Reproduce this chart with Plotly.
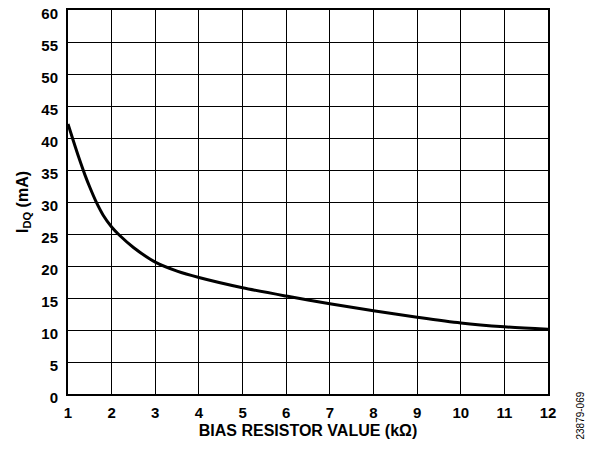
import plotly.graph_objects as go

resistor_k = [1.0, 1.12, 1.25, 1.39, 1.5, 1.64, 1.81, 2.0, 2.18, 2.5, 3.0, 3.5, 4, 5, 6, 7, 8, 9, 10, 11, 12]
idq_ma = [42.2, 39.6, 36.9, 34.2, 32.3, 30.1, 27.9, 26.1, 24.8, 22.9, 20.6, 19.2, 18.2, 16.6, 15.3, 14.1, 13.0, 12.0, 11.1, 10.5, 10.1]

x_ticks = list(range(1, 13))
y_ticks = list(range(0, 61, 5))

tick_font = dict(family="Liberation Sans, Arial, sans-serif", size=15, color="black")
title_font = dict(family="Liberation Sans, Arial, sans-serif", size=16, color="black")

fig = go.Figure()
fig.add_trace(go.Scatter(x=resistor_k, y=idq_ma, mode="lines",
                         line=dict(color="black", width=3, shape="spline", smoothing=0.8),
                         showlegend=False))

# page body has an 8px margin, so the figure itself is shifted by 8px
fig.update_layout(
    width=589, height=434,
    margin=dict(l=60, r=49, t=2, b=48, autoexpand=False),
    paper_bgcolor="white", plot_bgcolor="white",
    font=tick_font,
)
fig.update_xaxes(range=[1, 12], tickvals=x_ticks, ticktext=[f"<b>{v}</b>" for v in x_ticks],
                 tickfont=tick_font, ticklabelstandoff=4,
                 showgrid=True, gridcolor="black", gridwidth=1,
                 showline=True, linecolor="black", linewidth=2, mirror=True,
                 ticks="", zeroline=False, automargin=False,
                 title=dict(text="<b>BIAS RESISTOR VALUE (kΩ)</b>", standoff=5, font=title_font))
fig.update_yaxes(range=[0, 60], tickvals=y_ticks, ticktext=[f"<b>{v}</b>" for v in y_ticks],
                 tickfont=tick_font, ticklabelstandoff=5, ticklabelshift=4,
                 ticklabeloverflow="allow",
                 showgrid=True, gridcolor="black", gridwidth=1,
                 showline=True, linecolor="black", linewidth=2, mirror=True,
                 ticks="", zeroline=False, automargin=False,
                 title=dict(text="<b>I<sub>DQ</sub> (mA)</b>", standoff=9, font=title_font))
fig.add_annotation(text="23879-069", xref="paper", yref="paper", x=1.067, y=0.012,
                   textangle=-90, showarrow=False, xanchor="center", yanchor="top",
                   font=dict(family="Liberation Sans, Arial, sans-serif", size=10, color="black"))

fig.write_html("out.html")
